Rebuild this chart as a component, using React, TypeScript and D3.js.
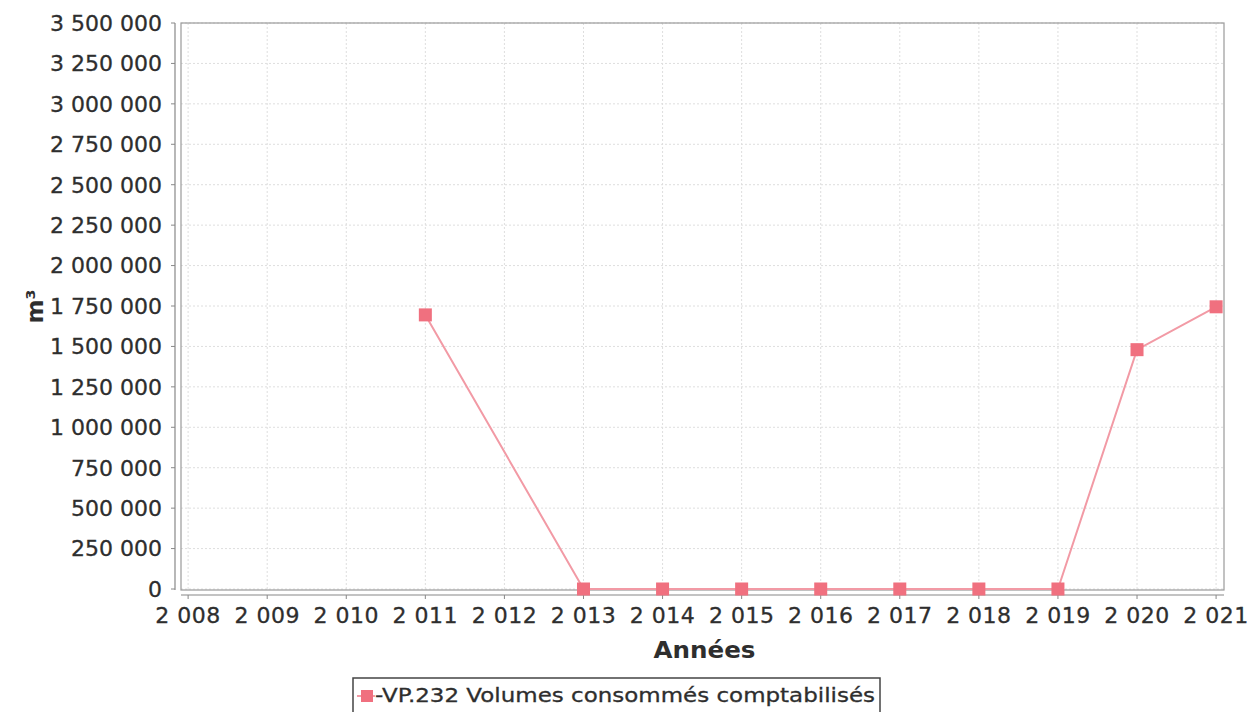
import React from "react";
import * as d3 from "d3";

const years = [2011, 2013, 2014, 2015, 2016, 2017, 2018, 2019, 2020, 2021];
const volumes = [1695000, 0, 0, 0, 0, 0, 0, 0, 1480000, 1745000];
const xTicks = [2008, 2009, 2010, 2011, 2012, 2013, 2014, 2015, 2016, 2017, 2018, 2019, 2020, 2021];
const yTicks = [0, 250000, 500000, 750000, 1000000, 1250000, 1500000, 1750000, 2000000, 2250000, 2500000, 2750000, 3000000, 3250000, 3500000];
const seriesName = "VP.232 Volumes consommés comptabilisés";
const xTitle = "Années";
const yTitle = "m³";

const fmt = (v: number) => d3.format(",")(v).replace(/,/g, " ");

export default function App() {
  const W = 1248, H = 712;
  const left = 181, right = 1224, top = 23, bottom = 590;
  const x = d3.scaleLinear().domain([2007.91, 2021.1]).range([left, right]);
  const y = d3.scaleLinear().domain([0, 3500000]).range([bottom - 1, top]);
  const line = d3.line<number>().x((_, i) => x(years[i])).y((d) => y(d));
  const font = "DejaVu Sans";
  const pink = "#f0707f";
  const txt = "#2e2e2e";
  return (
    <svg width={W} height={H} style={{ position: "absolute", left: 0, top: 0, background: "#fff" }} fontFamily={font}>
      <rect x={0} y={0} width={W} height={H} fill="#fff" />
      {xTicks.map((t) => (
        <line key={"gx" + t} x1={x(t)} x2={x(t)} y1={top} y2={bottom} stroke="#dedede" strokeWidth={1} strokeDasharray="2,2" />
      ))}
      {yTicks.map((t) => (
        <line key={"gy" + t} x1={left} x2={right} y1={y(t)} y2={y(t)} stroke="#dedede" strokeWidth={1} strokeDasharray="2,2" />
      ))}
      <rect x={left} y={top} width={right - left} height={bottom - top} fill="none" stroke="#9a9a9a" strokeWidth={1.2} />
      <line x1={175} x2={175} y1={top} y2={bottom} stroke="#888" strokeWidth={1.2} />
      {yTicks.map((t) => (
        <g key={"yt" + t}>
          <line x1={171} x2={175} y1={y(t)} y2={y(t)} stroke="#888" />
          <text x={162} y={y(t)} dy="0.36em" textAnchor="end" fontSize={22} fill={txt} stroke={txt} strokeWidth={0.3}>{fmt(t)}</text>
        </g>
      ))}
      <line x1={left} x2={right} y1={595} y2={595} stroke="#888" strokeWidth={1.2} />
      {xTicks.map((t) => (
        <g key={"xt" + t}>
          <line x1={x(t)} x2={x(t)} y1={595} y2={599} stroke="#888" />
          <text x={x(t)} y={623} textAnchor="middle" fontSize={22} fill={txt} stroke={txt} strokeWidth={0.3} letterSpacing={0.5}>{fmt(t)}</text>
        </g>
      ))}
      <text x={(left + right) / 2 + 2} y={658} textAnchor="middle" fontSize={23} fontWeight="bold" fill={txt} textLength={102} lengthAdjust="spacingAndGlyphs">{xTitle}</text>
      <text transform={`translate(43,${(top + bottom) / 2}) rotate(-90)`} textAnchor="middle" fontSize={23} fontWeight="bold" fill={txt}>{yTitle}</text>
      <path d={line(volumes) || ""} fill="none" stroke="#f29aa5" strokeWidth={2} />
      {volumes.map((v, i) => (
        <rect key={"m" + i} x={x(years[i]) - 6.5} y={y(v) - 6.5} width={13} height={13} fill={pink} />
      ))}
      <g>
        <rect x={353} y={678} width={527} height={40} fill="#fff" stroke="#444" strokeWidth={1.5} />
        <line x1={357} x2={375} y1={696} y2={696} stroke="#f29aa5" strokeWidth={2} />
        <rect x={361} y={690} width={12} height={12} fill={pink} />
        <text x={375} y={702} fontSize={20} fill={txt} stroke={txt} strokeWidth={0.3} textLength={500} lengthAdjust="spacingAndGlyphs">{"-" + seriesName}</text>
      </g>
    </svg>
  );
}
